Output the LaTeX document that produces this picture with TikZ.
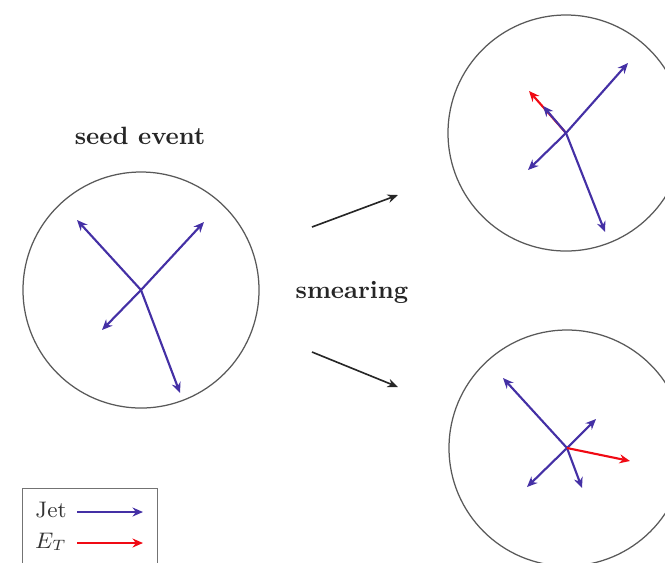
\documentclass[tikz,border=0pt]{standalone}
\usetikzlibrary{arrows.meta}
\definecolor{jetc}{RGB}{68,48,165}
\definecolor{metc}{RGB}{240,10,20}
\tikzset{
  evt/.style={draw=black!65, line width=0.5pt},
  jet/.style={draw=jetc, line width=0.85pt, -{Stealth[length=4.2pt,width=3.6pt]}},
  met/.style={draw=metc, line width=0.85pt, -{Stealth[length=4.2pt,width=3.6pt]}},
  flow/.style={draw=black!85, line width=0.65pt, -{Stealth[length=4.2pt,width=3.4pt]}},
  lbl/.style={font=\bfseries, inner sep=0pt, text=black!85},
}
\begin{document}
\begin{tikzpicture}[x=0.4pt,y=-0.4pt]
\clip (0,0) rectangle (665,562);
\path[use as bounding box] (0,0) rectangle (665,562);
% seed event
\node[lbl] (seed) at (140,136) {seed event};
\coordinate (c1) at (141,290);
\draw[evt] (c1) circle[radius=47.2pt];
\coordinate (a1) at (77,220);
\coordinate (a2) at (204,222);
\coordinate (a3) at (102,330);
\coordinate (a4) at (180,393);
\draw[jet] (c1) -- (a1);
\draw[jet] (c1) -- (a2);
\draw[jet] (c1) -- (a3);
\draw[jet] (c1) -- (a4);
% smearing
\node[lbl] (smear) at (352,292) {smearing};
\coordinate (f1s) at (312,227);
\coordinate (f1e) at (398,195);
\coordinate (f2s) at (312,352);
\coordinate (f2e) at (398,387);
\draw[flow] (f1s) -- (f1e);
\draw[flow] (f2s) -- (f2e);
% top right
\coordinate (c2) at (566,133);
\draw[evt] (c2) circle[radius=47.2pt];
\coordinate (b1) at (628,63);
\coordinate (b2) at (528,170);
\coordinate (b3) at (605,232);
\coordinate (b4) at (543,106);
\coordinate (b5) at (529,91);
\draw[met] (c2) -- (b5);
\draw[jet] (c2) -- (b1);
\draw[jet] (c2) -- (b2);
\draw[jet] (c2) -- (b3);
\draw[jet] (c2) -- (b4);
% bottom right
\coordinate (c3) at (567,448);
\draw[evt] (c3) circle[radius=47.2pt];
\coordinate (d1) at (503,378);
\coordinate (d2) at (596,419);
\coordinate (d3) at (527,487);
\coordinate (d4) at (582,488);
\coordinate (d5) at (630,461);
\draw[jet] (c3) -- (d1);
\draw[jet] (c3) -- (d2);
\draw[jet] (c3) -- (d3);
\draw[jet] (c3) -- (d4);
\draw[met] (c3) -- (d5);
% legend
\node[draw=black!55, line width=0.5pt, minimum width=54pt, minimum height=36pt, anchor=north west] (leg) at (22,488) {};
\node[inner sep=0pt, anchor=base, text=black!80, font=\small] (ljet) at (51,517) {Jet};
\node[inner sep=0pt, anchor=base, text=black!80, font=\small] (lmet) at (51,548) {$E_T$};
\coordinate (lj1) at (77,512);
\coordinate (lj2) at (143,512);
\coordinate (lm1) at (77,543);
\coordinate (lm2) at (143,543);
\draw[jet] (lj1) -- (lj2);
\draw[met] (lm1) -- (lm2);
\end{tikzpicture}
\end{document}
